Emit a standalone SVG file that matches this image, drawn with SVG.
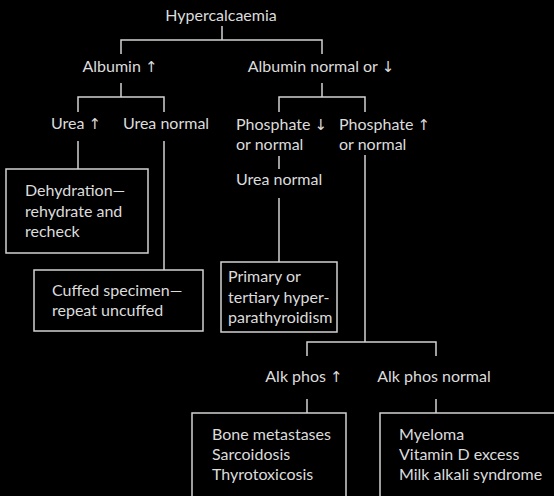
<svg xmlns="http://www.w3.org/2000/svg" width="554" height="496" viewBox="0 0 554 496">
<style>
text{font-family:Lato,"Liberation Sans",sans-serif;font-size:16px;fill:#dcdcdc}
.m{text-anchor:middle}
.a{font-family:"DejaVu Sans",sans-serif;font-size:15px}
.c{fill:none;stroke:#d2d2d2;stroke-width:1.5}
.b{fill:#000;stroke:#d2d2d2;stroke-width:1.5}
</style>
<rect width="554" height="496" fill="#000"/>
<g id="connectors" class="c">
<path class="c" d="M222,26V40M121,54V40H322V54"/>
<path class="c" d="M121,83V97M78,112V97H164V112"/>
<path class="c" d="M322,83V97M279,112V97H365V112"/>
<path class="c" d="M78,141V169"/>
<path class="c" d="M164,141V270"/>
<path class="c" d="M279,156V169"/>
<path class="c" d="M279,198V262"/>
<path class="c" d="M365,155V342M307,356V342H436V356"/>
<path class="c" d="M307,399V413M436,399V413"/>
</g>
<g id="n-hyper"><text class="m" x="221" y="21">Hypercalcaemia</text></g>
<g id="n-alb-up"><text class="m" x="120" y="72">Albumin <tspan class="a">↑</tspan></text></g>
<g id="n-alb-norm"><text class="m" x="321" y="72">Albumin normal or <tspan class="a">↓</tspan></text></g>
<g id="n-urea-up"><text class="m" x="76" y="129">Urea <tspan class="a">↑</tspan></text></g>
<g id="n-urea-norm"><text class="m" x="166" y="129">Urea normal</text></g>
<g id="n-phos-down"><text x="236" y="130">Phosphate <tspan class="a">↓</tspan></text><text x="236" y="150">or normal</text></g>
<g id="n-phos-up"><text x="339" y="130">Phosphate <tspan class="a">↑</tspan></text><text x="339" y="150">or normal</text></g>
<g id="n-urea-norm2"><text x="236" y="185">Urea normal</text></g>
<g id="n-dehyd"><rect class="b" x="6" y="169" width="142" height="84"/><text x="25" y="196">Dehydration—</text><text x="25" y="217">rehydrate and</text><text x="25" y="237">recheck</text></g>
<g id="n-cuffed"><rect class="b" x="34" y="270" width="169" height="61"/><text x="52" y="296">Cuffed specimen—</text><text x="52" y="316">repeat uncuffed</text></g>
<g id="n-primary"><rect class="b" x="221" y="262" width="116" height="70"/><text x="228" y="282">Primary or</text><text x="228" y="303">tertiary hyper-</text><text x="228" y="323">parathyroidism</text></g>
<g id="n-alk-up"><text class="m" x="304" y="382">Alk phos <tspan class="a">↑</tspan></text></g>
<g id="n-alk-norm"><text class="m" x="434" y="382">Alk phos normal</text></g>
<g id="n-bone"><rect class="b" x="192" y="413" width="154" height="100"/><text x="212" y="440">Bone metastases</text><text x="212" y="460">Sarcoidosis</text><text x="212" y="480">Thyrotoxicosis</text></g>
<g id="n-myeloma"><rect class="b" x="380" y="413" width="200" height="100"/><text x="399" y="440">Myeloma</text><text x="399" y="460">Vitamin D excess</text><text x="399" y="480">Milk alkali syndrome</text></g>
</svg>
